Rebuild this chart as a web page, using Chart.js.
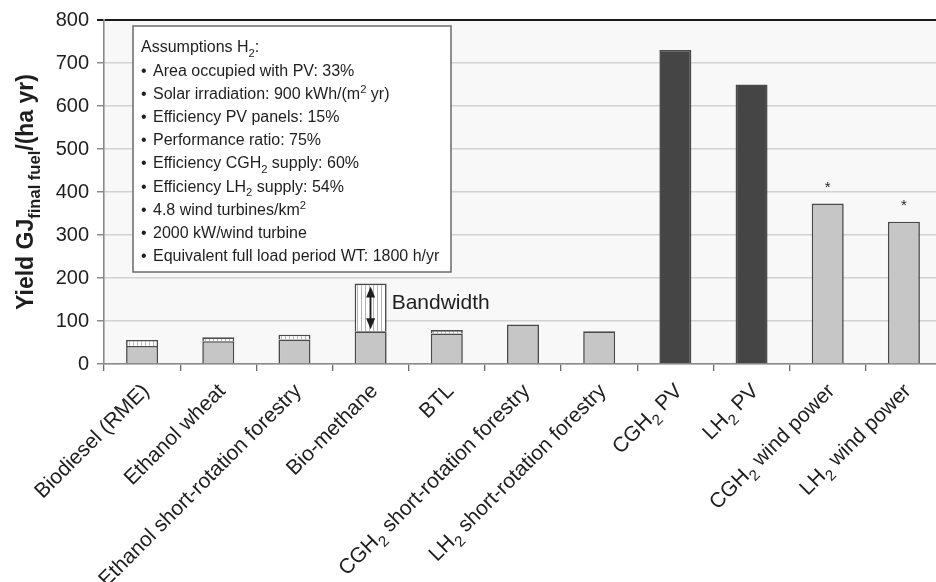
<!DOCTYPE html>
<html>
<head>
<meta charset="utf-8">
<script src="https://cdn.jsdelivr.net/npm/chart.js@4/dist/chart.umd.min.js"></script>
<style>
  html, body { margin: 0; padding: 0; background: #fff; overflow: hidden; }
  #wrap { position: relative; width: 944px; height: 582px; }
</style>
</head>
<body>
<div id="wrap"><canvas id="c"></canvas></div>
<script>
// Fuel pathways; "_{..}" marks a subscript, "^{..}" a superscript
const categories = [
  'Biodiesel (RME)', 'Ethanol wheat', 'Ethanol short-rotation forestry', 'Bio-methane', 'BTL',
  'CGH_{2} short-rotation forestry', 'LH_{2} short-rotation forestry',
  'CGH_{2} PV', 'LH_{2} PV', 'CGH_{2} wind power', 'LH_{2} wind power'
];
// Yield, GJ final fuel per ha and year: lower end and upper end of the bandwidth
const lowYield  = [42, 53, 57, 76, 71, 92, 76, 730, 650, 373, 331];
const highYield = [56, 62, 68, 187, 79, null, null, null, null, null, null];
const yTicks = [0, 100, 200, 300, 400, 500, 600, 700, 800];
// Pathways flagged with an asterisk
const flagged = [9, 10];
const assumptions = [
  'Area occupied with PV: 33%',
  'Solar irradiation: 900 kWh/(m^{2} yr)',
  'Efficiency PV panels: 15%',
  'Performance ratio: 75%',
  'Efficiency CGH_{2} supply: 60%',
  'Efficiency LH_{2} supply: 54%',
  '4.8 wind turbines/km^{2}',
  '2000 kW/wind turbine',
  'Equivalent full load period WT: 1800 h/yr'
];

const bandwidth = highYield.map((h, i) => h == null ? null : h - lowYield[i]);

const FONT = '"Liberation Sans", Arial, Helvetica, sans-serif';

// split "abc_{2} def" into runs with a vertical mode
function parseRich(s) {
  const parts = [];
  const re = /([_^])\{([^}]*)\}/g;
  let last = 0, m;
  while ((m = re.exec(s)) !== null) {
    if (m.index > last) parts.push({ t: s.slice(last, m.index), mode: 0 });
    parts.push({ t: m[2], mode: m[1] === '_' ? 1 : -1 });
    last = re.lastIndex;
  }
  if (last < s.length) parts.push({ t: s.slice(last), mode: 0 });
  return parts;
}
function richWidth(ctx, parts, size, weight, subScale) {
  let w = 0;
  parts.forEach(p => {
    ctx.font = weight + ' ' + (p.mode ? size * subScale : size) + 'px ' + FONT;
    w += ctx.measureText(p.t).width;
  });
  return w;
}
function drawRich(ctx, s, x, y, size, opts) {
  opts = opts || {};
  const weight = opts.weight || 'normal';
  const subScale = opts.subScale || 0.68;
  const parts = parseRich(s);
  const w = richWidth(ctx, parts, size, weight, subScale);
  let cx = opts.align === 'right' ? x - w : (opts.align === 'center' ? x - w / 2 : x);
  ctx.textAlign = 'left';
  ctx.textBaseline = 'alphabetic';
  parts.forEach(p => {
    const fs = p.mode ? size * subScale : size;
    ctx.font = weight + ' ' + fs + 'px ' + FONT;
    const dy = p.mode === 1 ? size * 0.3 : (p.mode === -1 ? -size * 0.38 : 0);
    ctx.fillText(p.t, cx, y + dy);
    cx += ctx.measureText(p.t).width;
  });
}

// vertical hatching for the bandwidth part of the bars
const pc = document.createElement('canvas');
pc.width = 4; pc.height = 4;
const pctx = pc.getContext('2d');
pctx.fillStyle = '#ffffff'; pctx.fillRect(0, 0, 4, 4);
pctx.fillStyle = '#b4b4b4'; pctx.fillRect(1, 0, 1, 4);
const hatch = pctx.createPattern(pc, 'repeat');

const plotBackground = {
  id: 'plotBackground',
  beforeDraw(chart) {
    const { ctx, chartArea: a } = chart;
    ctx.save();
    ctx.fillStyle = '#f8f8f8';
    ctx.fillRect(a.left, a.top, a.right - a.left, a.bottom - a.top);
    ctx.restore();
  }
};

const annotations = {
  id: 'annotations',
  afterDraw(chart) {
    const { ctx, chartArea: a } = chart;
    const xs = chart.scales.x, ys = chart.scales.y;
    ctx.save();
    ctx.fillStyle = '#1e1e1e';

    // rotated category labels
    categories.forEach((lab, i) => {
      const px = xs.getPixelForValue(i);
      ctx.save();
      ctx.translate(px + 8, a.bottom + 28);
      ctx.rotate(-Math.PI / 4);
      drawRich(ctx, lab, 0, 0, 21, { align: 'right', subScale: 0.72 });
      ctx.restore();
    });

    // y axis title
    ctx.save();
    ctx.translate(33, (a.top + a.bottom) / 2);
    ctx.rotate(-Math.PI / 2);
    drawRich(ctx, 'Yield GJ_{final fuel}/(ha yr)', 0, 0, 23, { align: 'center', weight: 'bold', subScale: 0.72 });
    ctx.restore();

    // asterisks
    ctx.font = '15px ' + FONT;
    ctx.textAlign = 'center';
    ctx.textBaseline = 'middle';
    flagged.forEach(i => {
      ctx.fillText('*', xs.getPixelForValue(i), ys.getPixelForValue(lowYield[i]) - 16);
    });

    // bandwidth arrow on bio-methane
    const bi = 3;
    const ax = xs.getPixelForValue(bi);
    const yTop = ys.getPixelForValue(highYield[bi]) + 3;
    const yBot = ys.getPixelForValue(lowYield[bi]) - 2;
    ctx.strokeStyle = '#1e1e1e';
    ctx.lineWidth = 1.6;
    ctx.beginPath();
    ctx.moveTo(ax, yTop + 8); ctx.lineTo(ax, yBot - 8);
    ctx.stroke();
    ctx.beginPath();
    ctx.moveTo(ax, yTop); ctx.lineTo(ax - 4.5, yTop + 11); ctx.lineTo(ax + 4.5, yTop + 11); ctx.closePath();
    ctx.moveTo(ax, yBot); ctx.lineTo(ax - 4.5, yBot - 11); ctx.lineTo(ax + 4.5, yBot - 11); ctx.closePath();
    ctx.fill();
    ctx.font = '21px ' + FONT;
    ctx.textAlign = 'left';
    ctx.textBaseline = 'middle';
    ctx.fillText('Bandwidth', ax + 21, (ys.getPixelForValue(highYield[bi]) + ys.getPixelForValue(lowYield[bi])) / 2 - 4);

    // assumptions box
    const bx = 133, by = 26, bw = 318, bh = 246;
    ctx.fillStyle = '#ffffff';
    ctx.fillRect(bx, by, bw, bh);
    ctx.strokeStyle = '#6a6a6a';
    ctx.lineWidth = 1.5;
    ctx.strokeRect(bx, by, bw, bh);
    ctx.fillStyle = '#1e1e1e';
    drawRich(ctx, 'Assumptions H_{2}:', 141, 52, 16, { subScale: 0.7 });
    assumptions.forEach((t, k) => {
      const yy = 76 + k * 23.1;
      ctx.font = '16px ' + FONT;
      ctx.textAlign = 'left';
      ctx.textBaseline = 'alphabetic';
      ctx.fillText('\u2022', 141, yy);
      drawRich(ctx, t, 153, yy, 16, { subScale: 0.7 });
    });
    ctx.restore();
  }
};

const chart = new Chart(document.getElementById('c'), {
  type: 'bar',
  data: {
    labels: categories,
    datasets: [
      {
        label: 'Yield',
        data: lowYield,
        backgroundColor: ctx => (ctx.dataIndex === 7 || ctx.dataIndex === 8) ? '#454545' : '#c6c6c6',
        borderColor: '#4a4a4a',
        borderWidth: 1.6,
        borderSkipped: 'bottom',
        barPercentage: 0.42,
        categoryPercentage: 1
      },
      {
        label: 'Bandwidth',
        data: bandwidth,
        backgroundColor: hatch,
        borderColor: '#4a4a4a',
        borderWidth: 1.6,
        borderSkipped: 'bottom',
        barPercentage: 0.42,
        categoryPercentage: 1
      }
    ]
  },
  options: {
    responsive: true,
    maintainAspectRatio: false,
    devicePixelRatio: 1,
    animation: false,
    layout: { padding: { top: 18, right: 2, left: 0, bottom: 0 } },
    plugins: { legend: { display: false }, tooltip: { enabled: false } },
    scales: {
      x: {
        stacked: true,
        offset: true,
        grid: { offset: true, drawOnChartArea: false, color: '#6a6a6a', tickLength: 7, lineWidth: 1.3 },
        border: { color: '#8a8a8a', width: 1.6 },
        ticks: { display: false },
        afterFit: s => { s.height = 218; }
      },
      y: {
        stacked: true,
        min: 0,
        max: 800,
        afterBuildTicks: s => { s.ticks = yTicks.map(v => ({ value: v })); },
        grid: {
          color: c => (c.tick && c.tick.value === 800) ? '#1a1a1a' : '#d2d2d2',
          lineWidth: c => (c.tick && c.tick.value === 800) ? 2 : 1.5,
          tickColor: c => (c.tick && c.tick.value === 800) ? '#1a1a1a' : '#8a8a8a',
          tickLength: 7
        },
        border: { color: '#8a8a8a', width: 1.6 },
        ticks: { font: { family: FONT, size: 20 }, color: '#1e1e1e', padding: 8 },
        afterFit: s => { s.width = 104; }
      }
    }
  },
  plugins: [plotBackground, annotations]
});
</script>
</body>
</html>
